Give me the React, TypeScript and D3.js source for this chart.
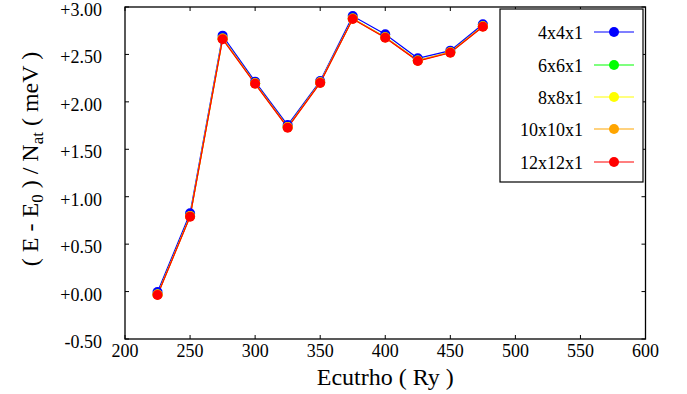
import React from "react";
import * as d3 from "d3";

const ecut = [225, 250, 275, 300, 325, 350, 375, 400, 425, 450, 475];
const k4 = [-0.005, 0.825, 2.698, 2.213, 1.756, 2.22, 2.905, 2.712, 2.459, 2.54, 2.818];
const k6 = [-0.03, 0.795, 2.668, 2.195, 1.734, 2.205, 2.878, 2.682, 2.436, 2.523, 2.797];
const k8 = [-0.032, 0.793, 2.665, 2.193, 1.731, 2.203, 2.876, 2.679, 2.433, 2.521, 2.795];
const k10 = [-0.03, 0.796, 2.668, 2.196, 1.734, 2.206, 2.879, 2.682, 2.436, 2.524, 2.798];
const k12 = [-0.036, 0.79, 2.66, 2.19, 1.728, 2.2, 2.873, 2.676, 2.43, 2.518, 2.792];
const seriesNames = ["4x4x1", "6x6x1", "8x8x1", "10x10x1", "12x12x1"];
const seriesColors = ["#0000ff", "#00ff00", "#ffff00", "#ffa500", "#ff0000"];
const xTicks = [200, 250, 300, 350, 400, 450, 500, 550, 600];
const yTicks = [-0.5, 0, 0.5, 1, 1.5, 2, 2.5, 3];

const W = 687, H = 394;
const L = 125, R = 645.5, T = 7, B = 339;
const FF = "'Liberation Serif', serif";

export default function App() {
  const x = d3.scaleLinear().domain([200, 600]).range([L, R]);
  const y = d3.scaleLinear().domain([-0.5, 3]).range([B, T]);
  const all = [k4, k6, k8, k10, k12];
  const line = d3.line<number>().x((_, i) => x(ecut[i])).y((v) => y(v));
  const legendY = [32, 65, 97, 129, 162];
  const fmt = (v: number) => (v >= 0 ? "+" : "") + v.toFixed(2);
  return (
    <svg
      width={W}
      height={H}
      style={{ position: "absolute", left: 0, top: 0, background: "#fff", fontFamily: FF }}
    >
      <rect x={0} y={0} width={W} height={H} fill="#fff" />
      {all.map((s, si) => (
        <path key={si} d={line(s) || ""} fill="none" stroke={seriesColors[si]} strokeWidth={1.2} />
      ))}
      {all.map((s, si) => (
        <g key={"m" + si}>
          {s.map((v, i) => (
            <circle key={i} cx={x(ecut[i])} cy={y(v)} r={5} fill={seriesColors[si]} />
          ))}
        </g>
      ))}
      <rect x={L} y={T} width={R - L} height={B - T} fill="none" stroke="#000" strokeWidth={1.3} />
      {xTicks.map((t) => (
        <g key={"xt" + t}>
          <line x1={x(t)} x2={x(t)} y1={B} y2={B - 4} stroke="#000" />
          <line x1={x(t)} x2={x(t)} y1={T} y2={T + 4} stroke="#000" />
          <text x={x(t)} y={B + 18} textAnchor="middle" style={{ fontFamily: FF }} fontSize={18} fill="#000">
            {t}
          </text>
        </g>
      ))}
      {yTicks.map((t) => (
        <g key={"yt" + t}>
          <line x1={L} x2={L + 4} y1={y(t)} y2={y(t)} stroke="#000" />
          <line x1={R} x2={R - 4} y1={y(t)} y2={y(t)} stroke="#000" />
          <text x={102} y={y(t) + 9} textAnchor="end" style={{ fontFamily: FF }} fontSize={18} fill="#000">
            {fmt(t)}
          </text>
        </g>
      ))}
      <text x={(L + R) / 2} y={385} textAnchor="middle" style={{ fontFamily: FF }} fontSize={24} fill="#000">
        Ecutrho ( Ry )
      </text>
      <text
        transform={`translate(38, 159) rotate(-90)`}
        textAnchor="middle"
        style={{ fontFamily: FF }}
        fontSize={24}
        fill="#000"
      >
        ( E - E<tspan fontSize={17} dy={5}>0</tspan>
        <tspan dy={-5}> ) / N</tspan>
        <tspan fontSize={17} dy={5}>at</tspan>
        <tspan dy={-5}> ( meV )</tspan>
      </text>
      <rect x={500} y={9} width={143} height={173} fill="#fff" stroke="#000" strokeWidth={1.2} />
      {seriesNames.map((n, i) => (
        <g key={n}>
          <text x={583} y={legendY[i] + 7} textAnchor="end" style={{ fontFamily: FF }} fontSize={18} fill="#000">
            {n}
          </text>
          <line x1={594} x2={634} y1={legendY[i]} y2={legendY[i]} stroke={seriesColors[i]} strokeWidth={1.2} />
          <circle cx={614} cy={legendY[i]} r={5} fill={seriesColors[i]} />
        </g>
      ))}
    </svg>
  );
}
